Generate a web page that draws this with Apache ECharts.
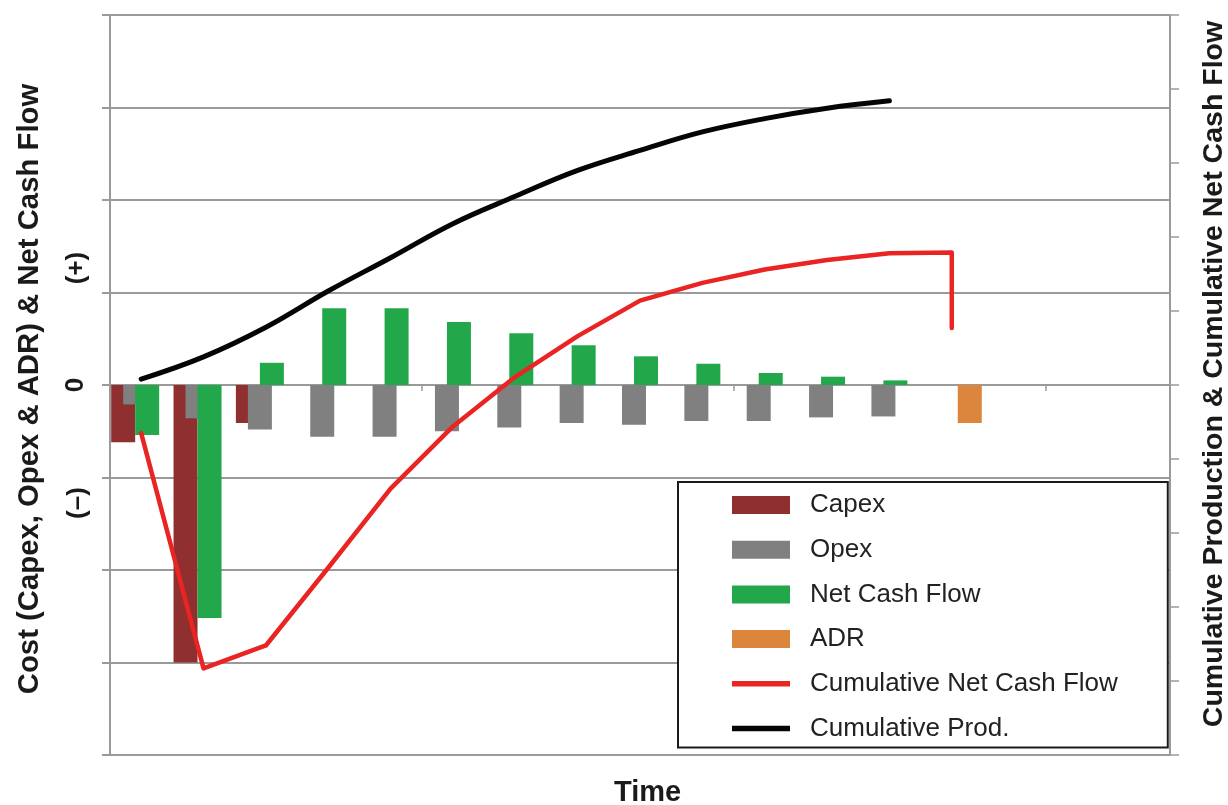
<!DOCTYPE html>
<html>
<head>
<meta charset="utf-8">
<title>Cash flow over project life</title>
<script src="https://cdn.jsdelivr.net/npm/echarts@6/dist/echarts.min.js"></script>
<style>
  html, body { margin: 0; padding: 0; background: #ffffff; }
  #chart { width: 1228px; height: 805px; }
</style>
</head>
<body>
<div id="chart"></div>
<script>
// Time periods along the horizontal axis
const periods = ['1', '2', '3', '4', '5', '6', '7', '8', '9', '10', '11', '12', '13', '14', '15', '16', '17'];

// Yearly costs and net cash flow (left axis, signed: costs negative)
const capex   = [-0.62, -3.00, -0.41, null, null, null, null, null, null, null, null, null, null, null, null, null, null];
const opex    = [-0.21, -0.36, -0.48, -0.56, -0.56, -0.50, -0.46, -0.41, -0.43, -0.39, -0.39, -0.35, -0.34, null, null, null, null];
const netCash = [-0.54, -2.52, 0.24, 0.83, 0.83, 0.68, 0.56, 0.43, 0.31, 0.23, 0.13, 0.09, 0.05, null, null, null, null];
const adr     = [null, null, null, null, null, null, null, null, null, null, null, null, null, -0.41, null, null, null];

// Cumulative curves (right axis)
const cumNetCash = [-0.65, -3.83, -3.52, -2.47, -1.40, -0.56, 0.11, 0.66, 1.14, 1.38, 1.56, 1.69, 1.78, 1.79];
const cumNetCashAfterAdr = 0.77;
const cumProd = [0.08, 0.38, 0.78, 1.27, 1.72, 2.18, 2.55, 2.90, 3.17, 3.42, 3.60, 3.74, 3.84];

// Cumulative net cash flow as [period index, value]; the ADR payment drops it in the last period
const cumNetCashPoints = cumNetCash.map((v, i) => [i, v]);
cumNetCashPoints.push([cumNetCash.length - 1, cumNetCashAfterAdr]);

const FONT = '"Liberation Sans", Arial, Helvetica, sans-serif';
const GRID = '#9a9a9a';
const TEXT = '#1a1a1a';

const COLORS = {
  capex: '#8f2f2f',
  opex: '#808080',
  net: '#22a84b',
  adr: '#dc853c',
  cumNet: '#ea2323',
  cumProd: '#050505'
};

const lineIcon = 'path://M0,0L64,0L64,6L0,6Z';

const chart = echarts.init(document.getElementById('chart'), null, { renderer: 'canvas' });

chart.setOption({
  animation: false,
  backgroundColor: '#ffffff',
  textStyle: { fontFamily: FONT },
  title: {
    text: 'Time',
    left: 614,
    top: 778,
    padding: 0,
    textStyle: { fontFamily: FONT, fontSize: 29, fontWeight: 'bold', color: TEXT }
  },
  grid: {
    left: 110, right: 58, top: 15, bottom: 50,
    containLabel: false,
    outerBoundsMode: 'none'
  },
  legend: {
    orient: 'vertical',
    left: 678,
    top: 482,
    padding: [10, 50, 6, 54],
    backgroundColor: '#ffffff',
    borderColor: '#1a1a1a',
    borderWidth: 2,
    itemWidth: 58,
    itemHeight: 18,
    itemGap: 18.7,
    textStyle: { fontFamily: FONT, fontSize: 26, color: '#222222', lineHeight: 26, padding: [0, 0, 0, 15] },
    data: [
      { name: 'Capex', icon: 'rect' },
      { name: 'Opex', icon: 'rect' },
      { name: 'Net Cash Flow', icon: 'rect' },
      { name: 'ADR', icon: 'rect' },
      { name: 'Cumulative Net Cash Flow', icon: lineIcon },
      { name: 'Cumulative Prod.', icon: lineIcon }
    ]
  },
  xAxis: {
    type: 'category',
    data: periods,
    boundaryGap: true,
    axisLine: { show: true, onZero: true, lineStyle: { color: GRID, width: 2 } },
    axisTick: { show: true, inside: false, length: 6, interval: 4, lineStyle: { color: GRID, width: 1.5 } },
    axisLabel: { show: false },
    splitLine: { show: false }
  },
  yAxis: [
    {
      type: 'value',
      position: 'left',
      min: -4, max: 4, interval: 1,
      name: 'Cost (Capex, Opex & ADR) & Net Cash Flow',
      nameLocation: 'middle',
      nameRotate: 90,
      nameGap: 66,
      nameTextStyle: { fontFamily: FONT, fontSize: 29.3, fontWeight: 'bold', color: TEXT, padding: [0, 8, 0, 0] },
      axisLine: { show: true, lineStyle: { color: GRID, width: 2 } },
      axisTick: { show: true, inside: false, length: 8, lineStyle: { color: GRID, width: 2 } },
      axisLabel: {
        show: true,
        rotate: 90,
        margin: 21,
        fontFamily: FONT, fontSize: 26, fontWeight: 'bold', color: TEXT,
        formatter: v => (v === 0 ? '0' : '')
      },
      splitLine: { show: true, lineStyle: { color: GRID, width: 2 } }
    },
    {
      type: 'value',
      position: 'right',
      min: -5, max: 5, interval: 1,
      name: 'Cumulative Production & Cumulative Net Cash Flow',
      nameLocation: 'middle',
      nameRotate: 90,
      nameGap: 30,
      nameTextStyle: { fontFamily: FONT, fontSize: 28.5, fontWeight: 'bold', color: TEXT, padding: [0, 0, 0, 22] },
      axisLine: { show: true, lineStyle: { color: GRID, width: 2 } },
      axisTick: { show: true, inside: false, length: 9, lineStyle: { color: GRID, width: 1.5 } },
      axisLabel: { show: false },
      splitLine: { show: false }
    }
  ],
  graphic: [
    {
      type: 'text', x: 77, y: 268, rotation: Math.PI / 2,
      style: { text: '(+)', font: 'bold 26px ' + FONT, fill: TEXT, align: 'center', verticalAlign: 'middle' }
    },
    {
      type: 'text', x: 78, y: 503, rotation: Math.PI / 2,
      style: { text: '(\u2013)', font: 'bold 26px ' + FONT, fill: TEXT, align: 'center', verticalAlign: 'middle' }
    }
  ],
  series: [
    {
      name: 'Capex', type: 'bar', yAxisIndex: 0, data: capex,
      barWidth: 24, barGap: '-50%',
      itemStyle: { color: COLORS.capex }
    },
    {
      name: 'Opex', type: 'bar', yAxisIndex: 0, data: opex,
      barWidth: 24, barGap: '-50%',
      itemStyle: { color: COLORS.opex }
    },
    {
      name: 'Net Cash Flow', type: 'bar', yAxisIndex: 0, data: netCash,
      barWidth: 24, barGap: '-50%',
      itemStyle: { color: COLORS.net }
    },
    {
      name: 'ADR', type: 'bar', yAxisIndex: 0, data: adr,
      barWidth: 24, barGap: '-50%',
      itemStyle: { color: COLORS.adr }
    },
    {
      name: 'Cumulative Net Cash Flow', type: 'line', yAxisIndex: 1,
      data: cumNetCashPoints,
      symbol: 'none', smooth: false,
      lineStyle: { color: COLORS.cumNet, width: 4.5, cap: 'round', join: 'round' },
      itemStyle: { color: COLORS.cumNet },
      z: 5
    },
    {
      name: 'Cumulative Prod.', type: 'line', yAxisIndex: 1,
      data: cumProd,
      symbol: 'none', smooth: 0.4,
      lineStyle: { color: COLORS.cumProd, width: 5, cap: 'round', join: 'round' },
      itemStyle: { color: COLORS.cumProd },
      z: 6
    }
  ]
});
</script>
</body>
</html>
